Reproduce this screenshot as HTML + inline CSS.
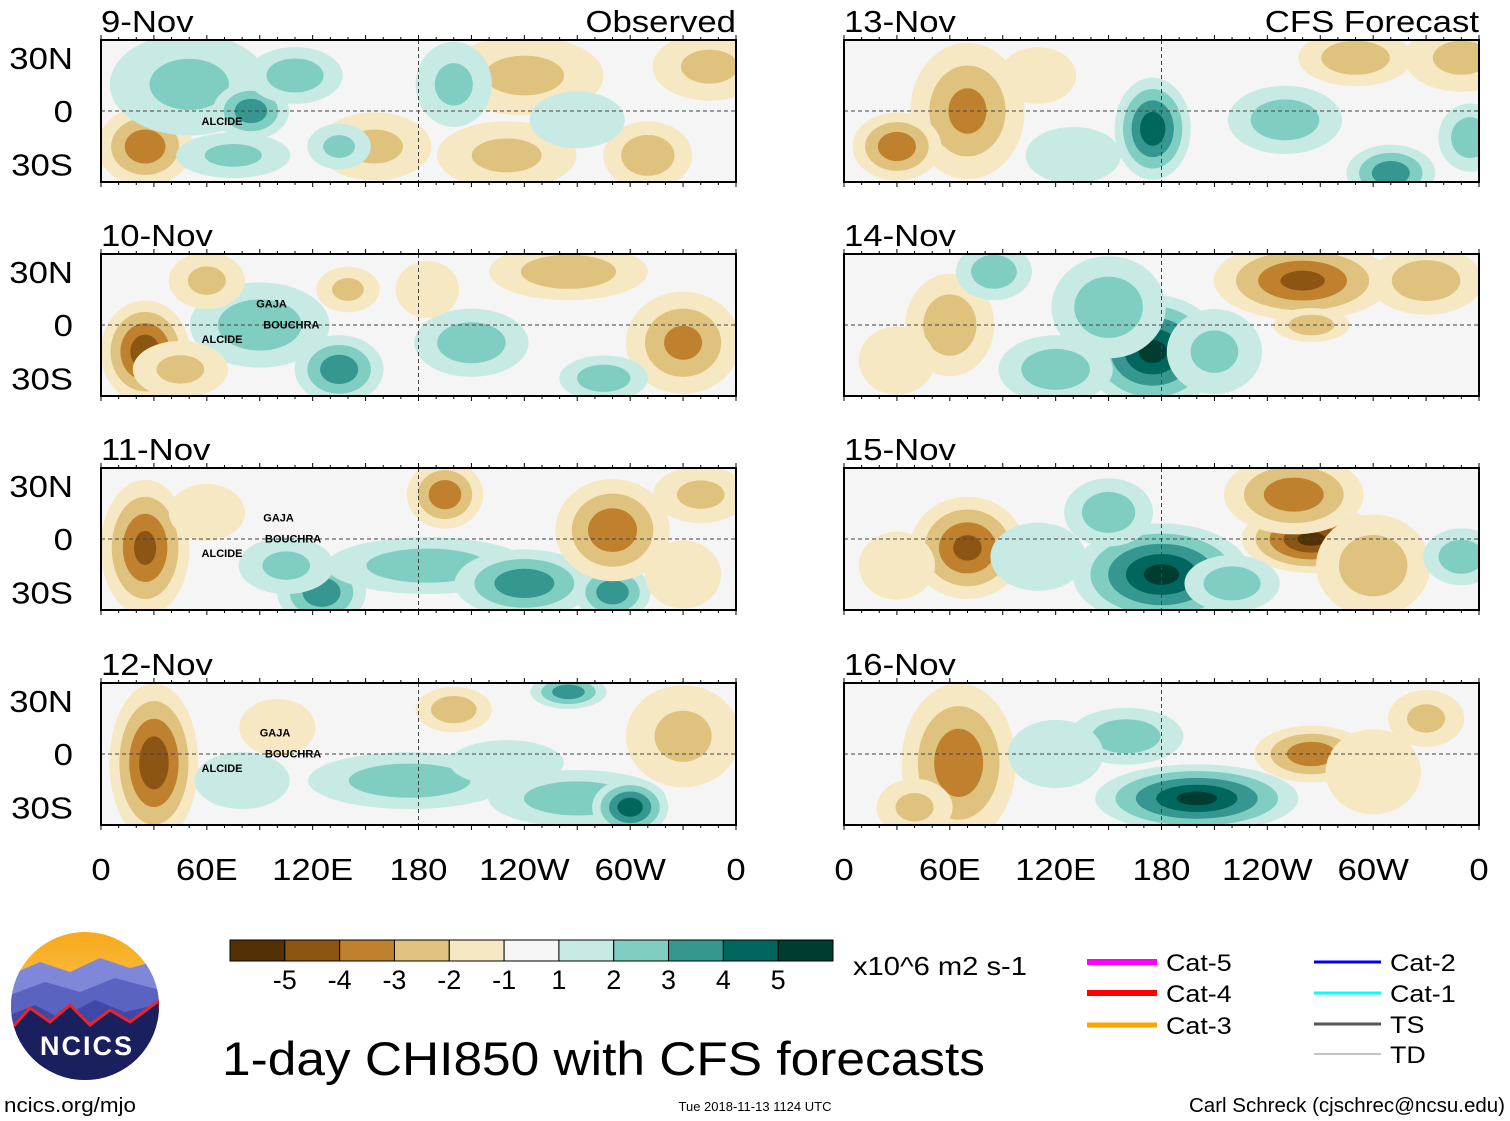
<!DOCTYPE html>
<html><head><meta charset="utf-8"><style>
body{margin:0;background:#fff;}
svg{display:block;font-family:"Liberation Sans",sans-serif;}
</style></head><body>
<svg id="fig" width="1510" height="1121" viewBox="0 0 1510 1121" xmlns="http://www.w3.org/2000/svg">
<defs>
<linearGradient id="sky" x1="0" y1="0" x2="0" y2="1"><stop offset="0" stop-color="#f7a81b"/><stop offset="1" stop-color="#fde07a"/></linearGradient>
<clipPath id="logoclip"><circle cx="85" cy="1006" r="74"/></clipPath>
</defs>
<g id="panels"></g>
<g id="colorbar"></g>
<text class="w" x="853" y="975" font-size="26">x10^6 m2 s-1</text>
<g>
<line x1="1087" y1="962" x2="1157" y2="962" stroke="#ff00ff" stroke-width="6"/>
<text class="w" x="1166" y="971" font-size="24">Cat-5</text>
<line x1="1087" y1="993" x2="1157" y2="993" stroke="#ff0000" stroke-width="6"/>
<text class="w" x="1166" y="1002" font-size="24">Cat-4</text>
<line x1="1087" y1="1025" x2="1157" y2="1025" stroke="#ffa500" stroke-width="5"/>
<text class="w" x="1166" y="1034" font-size="24">Cat-3</text>
<line x1="1314" y1="962" x2="1381" y2="962" stroke="#0000ff" stroke-width="3"/>
<text class="w" x="1390" y="971" font-size="24">Cat-2</text>
<line x1="1314" y1="993" x2="1381" y2="993" stroke="#00ffff" stroke-width="3"/>
<text class="w" x="1390" y="1002" font-size="24">Cat-1</text>
<line x1="1314" y1="1024" x2="1381" y2="1024" stroke="#555" stroke-width="3"/>
<text class="w" x="1390" y="1033" font-size="24">TS</text>
<line x1="1314" y1="1054" x2="1381" y2="1054" stroke="#888" stroke-width="1"/>
<text class="w" x="1390" y="1063" font-size="24">TD</text>
</g>
<g>
<g clip-path="url(#logoclip)">
<rect x="10" y="930" width="150" height="152" fill="url(#sky)"/>
<path d="M10 975 L40 962 L70 972 L100 958 L130 968 L160 960 L160 1082 L10 1082Z" fill="#7f88d8"/>
<path d="M10 995 L45 982 L80 992 L115 978 L160 990 L160 1082 L10 1082Z" fill="#5b63c0"/>
<path d="M10 1015 L35 1005 L60 1018 L95 1000 L125 1012 L160 1004 L160 1082 L10 1082Z" fill="#3f48a8"/>
<path d="M10 1030 L30 1008 L50 1022 L70 1005 L90 1025 L110 1010 L130 1022 L160 1000 L160 1082 L10 1082Z" fill="#1a1f5e" stroke="#e8262a" stroke-width="3"/>
</g>
<text x="87" y="1055" font-size="27" font-weight="bold" fill="#fff" text-anchor="middle" letter-spacing="2">NCICS</text>
</g>
<text x="222" y="1075" font-size="47" textLength="763" lengthAdjust="spacingAndGlyphs">1-day CHI850 with CFS forecasts</text>
<text class="w" x="4" y="1112" font-size="20">ncics.org/mjo</text>
<text x="755" y="1111" font-size="13" text-anchor="middle">Tue 2018-11-13 1124 UTC</text>
<text x="1505" y="1112" font-size="20" text-anchor="end" textLength="316" lengthAdjust="spacingAndGlyphs">Carl Schreck (cjschrec@ncsu.edu)</text>
</svg>
<script>
const panelTitles = ["9-Nov","10-Nov","11-Nov","12-Nov","13-Nov","14-Nov","15-Nov","16-Nov"];
const xTickLabels = ["0","60E","120E","180","120W","60W","0"];
const xTickLons = [0,60,120,180,240,300,360];
const yTickLabels = ["30N","0","30S"];
const yTickLats = [30,0,-30];
const cbarLabels = ["-5","-4","-3","-2","-1","1","2","3","4","5"];
const browns = ["#f6e8c3","#dfc27d","#bf812d","#8c5513","#543005"];
const teals = ["#c7eae5","#80cdc1","#35978f","#01665e","#003c30"];
const cbarColors = ["#543005","#8c5513","#bf812d","#dfc27d","#f6e8c3","#f5f5f5","#c7eae5","#80cdc1","#35978f","#01665e","#003c30"];
// blobs: [lon, lat, value, lonRadius, latRadius]
const blobs9 = [[25,-20,-3,15,14],[50,15,1.5,25,18],[85,0,3,12,10],[110,20,2,15,10],[155,-20,-1.5,18,12],[230,-25,-1.5,22,12],[240,20,-1.5,25,14],[310,-25,-2,14,12],[345,25,-1.5,18,12],[75,-25,1.5,18,8],[200,15,1.5,12,15],[270,-5,1.2,15,10],[135,-20,1.5,10,8]];
const blobs10 = [[25,-15,-4,14,18],[90,0,2,22,15],[135,-25,3,14,12],[210,-10,2,18,12],[330,-10,-2.5,18,18],[265,30,-2,25,10],[285,-30,2,14,8],[60,25,-1.5,12,10],[140,20,-1.5,10,8],[45,-25,-1.5,15,10],[185,20,-1.2,10,10]];
const blobs11 = [[25,-5,-3.5,14,24],[125,-30,3,14,12],[185,-15,2,32,10],[240,-25,3,22,12],[290,-30,3,12,10],[290,5,-3,18,18],[195,25,-3,12,12],[340,25,-1.5,15,10],[105,-15,1.5,15,10],[330,-20,-1.2,12,12],[60,15,-1.2,12,10]];
const blobs12 = [[30,-5,-4,14,28],[175,-15,2,32,10],[270,-25,2,28,10],[300,-30,4,12,10],[265,35,3,12,6],[200,25,-2,12,8],[330,10,-1.5,18,18],[80,-15,1.2,15,10],[100,15,-1.2,12,10],[230,-5,1.2,18,8]];
const blobs13 = [[175,-10,4,12,18],[70,0,-2.5,18,24],[30,-20,-3,14,12],[250,-5,2,18,12],[310,-35,3,14,10],[290,30,-2,18,10],[350,30,-1.5,18,12],[355,-15,2,10,12],[130,-25,1.2,15,10],[110,20,-1.2,12,10]];
const blobs14 = [[175,-15,4.5,22,20],[150,10,2,18,18],[260,25,-3.5,28,14],[330,25,-2,18,12],[265,0,-2,12,6],[60,0,-2,14,18],[85,30,2,12,10],[120,-25,2,18,12],[30,-20,-1.2,12,12],[210,-15,1.5,15,15]];
const blobs15 = [[180,-20,4.5,28,18],[70,-5,-3.5,18,18],[265,0,-4.5,22,12],[255,25,-3,22,14],[300,-15,-2,18,18],[350,-10,2,12,10],[150,15,2,14,12],[220,-25,2,15,10],[30,-15,-1.2,12,12],[110,-10,1.2,15,12]];
const blobs16 = [[200,-25,4.5,32,12],[65,-5,-3,18,28],[265,0,-3,18,10],[160,10,2,18,10],[330,20,-1.5,12,10],[40,-30,-1.5,12,10],[120,0,1.2,15,12],[300,-10,-1.2,15,15]];
const allBlobs = [blobs9,blobs10,blobs11,blobs12,blobs13,blobs14,blobs15,blobs16];
const storms = [[["ALCIDE",57,-8]],[["GAJA",88,10],["BOUCHRA",92,-2],["ALCIDE",57,-10]],[["GAJA",92,10],["BOUCHRA",93,-2],["ALCIDE",57,-10]],[["GAJA",90,10],["BOUCHRA",93,-2],["ALCIDE",57,-10]],[],[],[],[]];

const NS="http://www.w3.org/2000/svg";
const svg=document.getElementById('fig');
const pg=document.getElementById('panels');
function mk(t,a,p){const e=document.createElementNS(NS,t);for(const k in a)e.setAttribute(k,a[k]);(p||svg).appendChild(e);return e;}
function widen(t,f){const w=t.getComputedTextLength();if(w>0){t.setAttribute('textLength',(w*f).toFixed(1));t.setAttribute('lengthAdjust','spacingAndGlyphs');}}
const PW=635, PH=142;
const colX=[101,844], rowY=[40,254,468,683];
for(let i=0;i<8;i++){
  const col=i<4?0:1,row=i%4;
  const x0=colX[col],y0=rowY[row];
  const xs=lon=>x0+lon/360*PW;
  const ys=lat=>y0+PH/2-lat*PH/80;
  const g=mk('g',{},pg);
  
  
  const cp=mk('clipPath',{id:'cp'+i},g);
  mk('rect',{x:x0,y:y0,width:PW,height:PH},cp);
  mk('rect',{x:x0,y:y0,width:PW,height:PH,fill:'#f5f5f5'},g);
  const fg=mk('g',{'clip-path':'url(#cp'+i+')'},g);
  allBlobs[i].forEach(b=>{
    const [lon,lat,v,rx,ry]=b;const av=Math.abs(v);const pal=v<0?browns:teals;
    for(let t=1;t<=5&&t<=av+0.5;t++){
      const f=1-(t-1)/(av+0.5);
      const e=mk('ellipse',{cx:xs(lon),cy:ys(lat),rx:rx*f*PW/360*1.8,ry:ry*f*PH/80*1.6,fill:pal[t-1]},fg);
      
      
    }
  });
  mk('line',{x1:x0,y1:ys(0),x2:x0+PW,y2:ys(0),stroke:'#444','stroke-dasharray':'4,3','stroke-width':1},g);
  mk('line',{x1:xs(180),y1:y0,x2:xs(180),y2:y0+PH,stroke:'#444','stroke-dasharray':'4,3','stroke-width':1},g);
  storms[i].forEach(s=>{const t=mk('text',{x:xs(s[1]),y:ys(s[2]),'font-size':11,'font-weight':'bold'},g);t.textContent=s[0];
    });
  mk('rect',{x:x0,y:y0,width:PW,height:PH,fill:'none',stroke:'#000','stroke-width':2},g);
  for(let l=0;l<=360;l+=10){const len=l%30===0?5:3;
    mk('line',{x1:xs(l),y1:y0,x2:xs(l),y2:y0-len,stroke:'#000'},g);
    mk('line',{x1:xs(l),y1:y0+PH,x2:xs(l),y2:y0+PH+len,stroke:'#000'},g);}
  const tt=mk('text',{x:x0,y:y0-8,'font-size':31},g);tt.textContent=panelTitles[i];
  widen(tt,1.12);
  if(row===0){const st=mk('text',{x:x0+PW,y:y0-8,'font-size':31,'text-anchor':'end'},g);st.textContent=col===0?'Observed':'CFS Forecast';
    widen(st,1.12);}
  if(col===0){yTickLats.forEach((la,k)=>{const t=mk('text',{x:73,y:ys(la)+11,'font-size':31,'text-anchor':'end'},g);t.textContent=yTickLabels[k];
    widen(t,1.12);});}
  if(row===3){xTickLons.forEach((lo,k)=>{const t=mk('text',{x:xs(lo),y:880,'font-size':31,'text-anchor':'middle'},g);t.textContent=xTickLabels[k];
    widen(t,1.12);});}
}
const cb=document.getElementById('colorbar');
const cbx=230,cbw=603/11;
cbarColors.forEach((c,k)=>{const r=mk('rect',{x:cbx+k*cbw,y:940,width:cbw,height:21,fill:c,stroke:'#000','stroke-width':1},cb);
  });
cbarLabels.forEach((l,k)=>{const t=mk('text',{x:cbx+(k+1)*cbw,y:989,'font-size':27,'text-anchor':'middle'},cb);t.textContent=l;
  });
document.querySelectorAll('text.w').forEach(t=>widen(t,1.12));
</script>
</body></html>
